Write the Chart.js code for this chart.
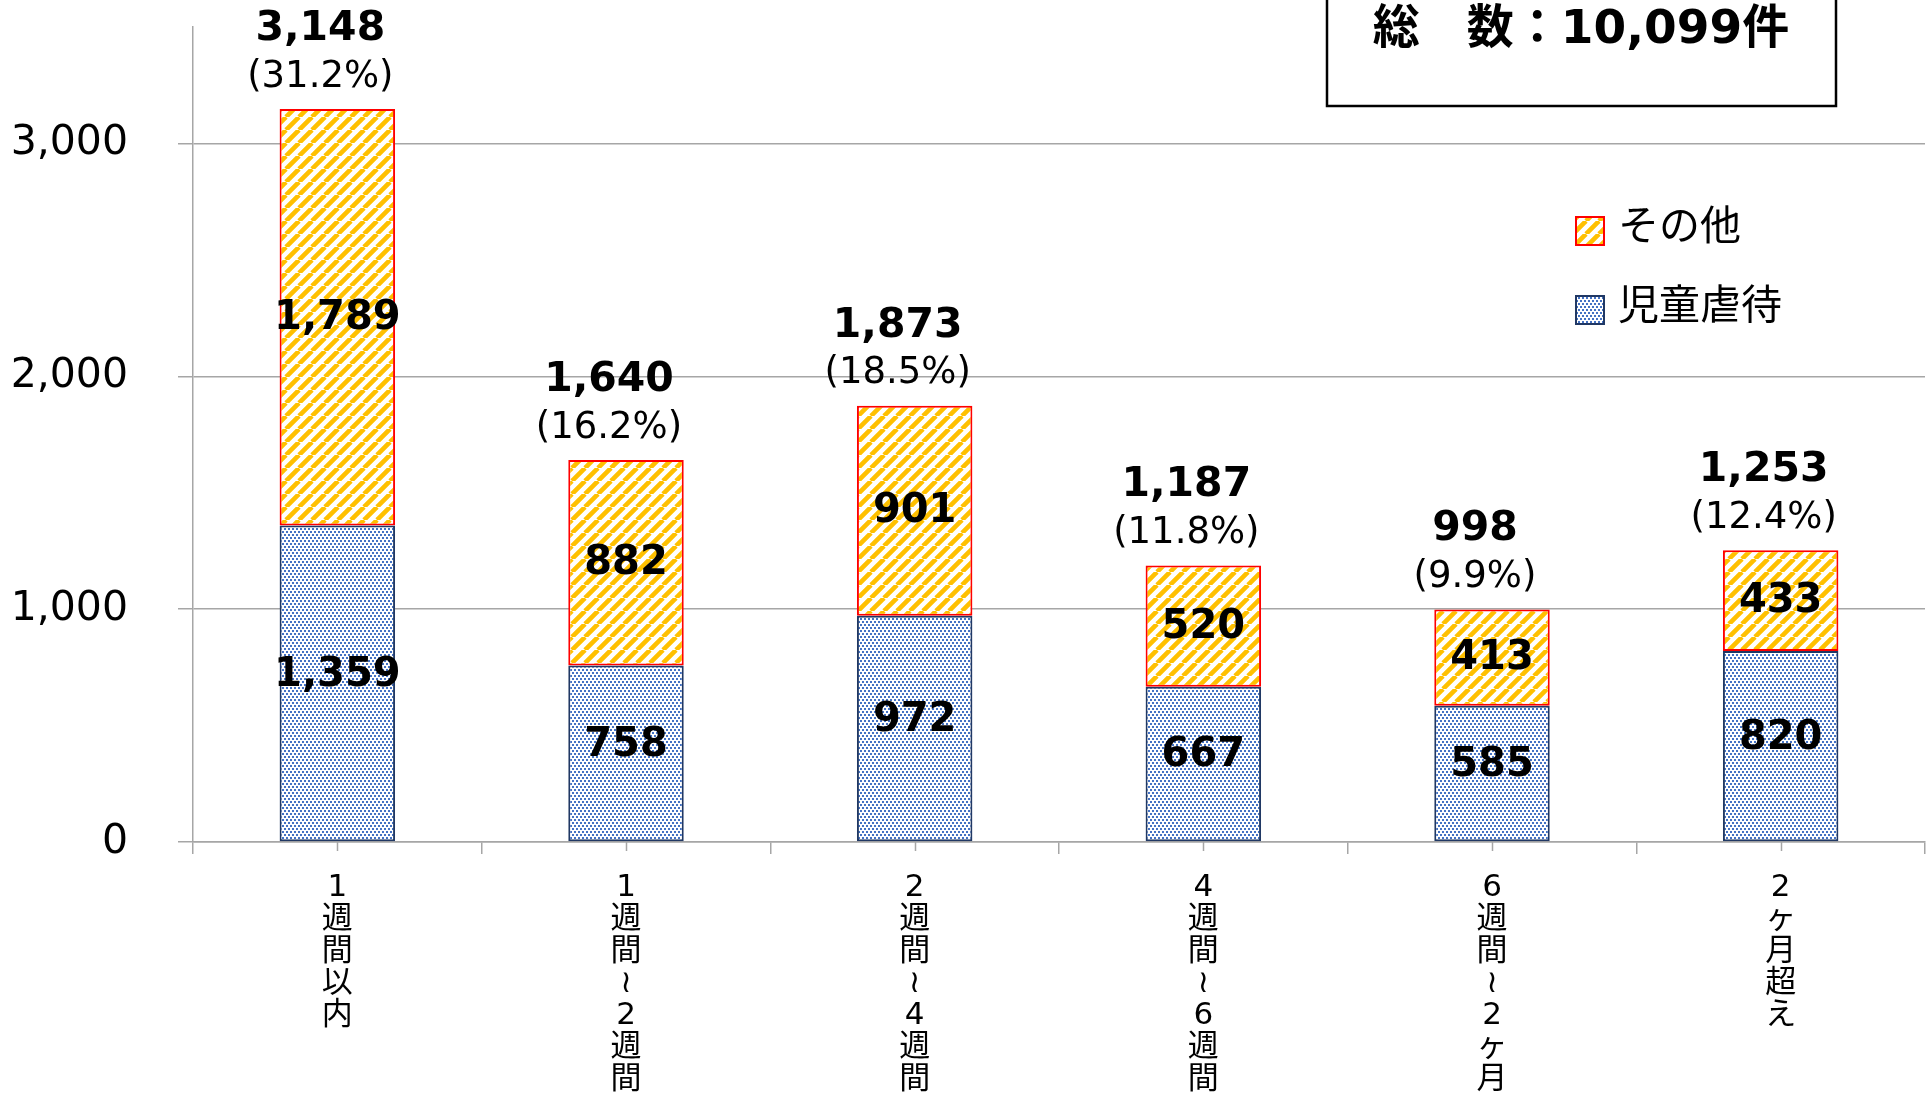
<!DOCTYPE html>
<html lang="ja">
<head>
<meta charset="utf-8">
<title>一時保護の期間別件数</title>
<script src="https://cdn.jsdelivr.net/npm/chart.js@4.4.1/dist/chart.umd.min.js"></script>
<style>
  html, body { margin: 0; padding: 0; background: #fff; overflow: hidden; }
  canvas { display: block; }
</style>
</head>
<body>
<canvas id="periodChart" width="1931" height="1094"></canvas>
<script>
// data
const categories = ["1週間以内", "1週間～2週間", "2週間～4週間", "4週間～6週間", "6週間～2ヶ月", "2ヶ月超え"];
const abuse = [1359, 758, 972, 667, 585, 820];
const others = [1789, 882, 901, 520, 413, 433];
const shares = [31.2, 16.2, 18.5, 11.8, 9.9, 12.4];
const yTicks = [0, 1000, 2000, 3000];

const FONT = '"DejaVu Sans", "Noto Sans CJK JP", sans-serif';
const JP = '"Noto Sans CJK JP", sans-serif';
const GRAY = "#A6A6A6";

const canvas = document.getElementById("periodChart");
const ctx = canvas.getContext("2d");

// hatch fills like the excel patterns
function stripeFill() {
    const c = document.createElement("canvas");
    c.width = 13; c.height = 13;
    const g = c.getContext("2d");
    g.fillStyle = "#fff";
    g.fillRect(0, 0, 13, 13);
    g.strokeStyle = "#FFC000";
    g.lineWidth = 4.6;
    g.beginPath();
    for (const o of [-13, 0, 13]) {
        g.moveTo(o, 13);
        g.lineTo(o + 13, 0);
    }
    g.stroke();
    return ctx.createPattern(c, "repeat");
}

function dotFill() {
    const c = document.createElement("canvas");
    c.width = 4; c.height = 6;
    const g = c.getContext("2d");
    g.fillStyle = "#fff";
    g.fillRect(0, 0, 4, 6);
    g.fillStyle = "#4472C4";
    g.fillRect(0, 0, 2, 2);
    g.fillRect(2, 3, 2, 2);
    return ctx.createPattern(c, "repeat");
}

const stripes = stripeFill();
const dots = dotFill();

const fmt = v => v.toLocaleString("en-US");

const labelPlugin = {
    id: "labels",
    afterDatasetsDraw(chart) {
        const c = chart.ctx;
        const xs = chart.scales.x, ys = chart.scales.y;
        c.save();
        c.fillStyle = "#000";
        c.textAlign = "center";
        c.textBaseline = "middle";

        // values inside segments
        c.font = "bold 40px " + FONT;
        chart.data.datasets.forEach((ds, d) => {
            const shift = d === 0 ? -8 : 1;
            chart.getDatasetMeta(d).data.forEach((bar, i) => {
                c.fillText(fmt(ds.data[i]), bar.x, (bar.y + bar.base) / 2 + shift);
            });
        });

        // totals and shares above bars
        categories.forEach((_, i) => {
            const total = abuse[i] + others[i];
            const x = xs.getPixelForValue(i) - 17;
            const top = ys.getPixelForValue(total);
            c.font = "bold 41px " + FONT;
            c.fillText(fmt(total), x, top - 80);
            c.font = "37px " + FONT;
            c.fillText("(" + shares[i].toFixed(1) + "%)", x, top - 32);
        });

        // small ticks under each bar centre
        c.strokeStyle = GRAY;
        c.lineWidth = 1.5;
        categories.forEach((_, i) => {
            const x = Math.round(xs.getPixelForValue(i)) + 0.5;
            c.beginPath();
            c.moveTo(x, xs.top);
            c.lineTo(x, xs.top + 9);
            c.stroke();
        });

        // legend, top item is the stacked one
        const items = chart.data.datasets.slice().reverse();
        items.forEach((ds, k) => {
            const cy = 231 + k * 79;
            c.fillStyle = ds.backgroundColor;
            c.fillRect(1575, cy - 15, 30, 30);
            c.strokeStyle = ds.borderColor;
            c.lineWidth = 2;
            c.strokeRect(1576, cy - 14, 28, 28);
            c.fillStyle = "#000";
            c.textAlign = "left";
            c.font = "41px " + JP;
            c.fillText(ds.label, 1618, cy - 7);
        });

        // total box
        const grand = abuse.concat(others).reduce((a, b) => a + b, 0);
        c.strokeStyle = "#000";
        c.lineWidth = 2.5;
        c.strokeRect(1327, -5, 509, 111);
        c.textAlign = "center";
        c.font = "bold 47px " + FONT;
        c.fillText("総　数：" + fmt(grand) + "件", 1581, 31);
        c.restore();
    }
};

new Chart(canvas, {
    type: "bar",
    data: {
        labels: categories,
        datasets: [
            { label: "児童虐待", data: abuse, backgroundColor: dots, borderColor: "#203864", borderWidth: 2, borderSkipped: false },
            { label: "その他", data: others, backgroundColor: stripes, borderColor: "#FF0000", borderWidth: 2, borderSkipped: false }
        ]
    },
    options: {
        responsive: false,
        animation: false,
        layout: { padding: { top: 27, right: 6, left: 0, bottom: 0 } },
        datasets: { bar: { barPercentage: 0.4, categoryPercentage: 1 } },
        plugins: { legend: { display: false }, tooltip: { enabled: false } },
        scales: {
            x: {
                stacked: true,
                grid: { drawOnChartArea: false, offset: true, tickLength: 12, color: GRAY, lineWidth: 1.5 },
                border: { color: GRAY, width: 1.5 },
                ticks: {
                    padding: 18,
                    color: "#000",
                    maxRotation: 0,
                    autoSkip: false,
                    font: { family: FONT, size: 31, lineHeight: "32px" },
                    // vertical text, one character per line
                    callback: (v, i) => Array.from(categories[i]).map(ch => ch === "～" ? "≀" : ch)
                },
                afterFit: s => { s.height = 252; s.paddingLeft = 0; s.paddingRight = 0; }
            },
            y: {
                stacked: true,
                min: 0,
                max: 3500,
                afterBuildTicks: s => { s.ticks = yTicks.map(v => ({ value: v })); },
                ticks: {
                    padding: 50,
                    color: "#000",
                    font: { family: FONT, size: 41 },
                    callback: v => fmt(v)
                },
                grid: { color: GRAY, lineWidth: 1.5, tickLength: 15 },
                border: { color: GRAY, width: 1.5 },
                afterFit: s => { s.width = 193; s.paddingTop = 0; s.paddingBottom = 0; }
            }
        }
    },
    plugins: [labelPlugin]
});
</script>
</body>
</html>
